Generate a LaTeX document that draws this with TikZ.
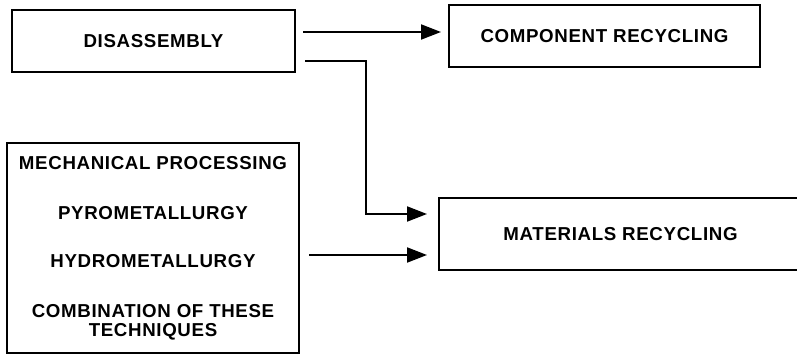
\documentclass[tikz,border=0pt]{standalone}
\usepackage{fontspec}
\setmainfont{Liberation Sans}[LetterSpace=3.5]
\usetikzlibrary{arrows.meta}
\begin{document}
\begin{tikzpicture}[x=1pt,y=-1pt,
  box/.style={draw=black,line width=2pt,fill=white,rectangle,inner sep=0pt,
    font=\fontsize{18.7}{19}\selectfont\bfseries,align=center},
  arr/.style={draw=black,line width=2pt,-{Triangle[length=20pt,width=15pt]}}]
  \useasboundingbox (0,0) rectangle (797,355);
  \clip (0,0) rectangle (797,355);
  % process boxes
  \node[box,minimum width=283pt,minimum height=62pt] (dis) at (153.5,41) {DISASSEMBLY};
  \node[box,minimum width=311pt,minimum height=62pt] (comp) at (604.5,36) {COMPONENT RECYCLING};
  \node[box,minimum width=363pt,minimum height=72pt] (mat) at (620.5,234) {MATERIALS RECYCLING};
  \node[box,minimum width=292pt,minimum height=210pt] (tech) at (153,248)
    {MECHANICAL PROCESSING\\[31pt]PYROMETALLURGY\\[29pt]HYDROMETALLURGY\\[31pt]COMBINATION OF THESE\\TECHNIQUES};
  % connector start points
  \coordinate (s1) at (303,32);
  \coordinate (s2) at (305,61);
  \coordinate (bend) at (366,61);
  \coordinate (s3) at (309,255);
  % connectors
  \draw[arr,shorten >=7pt] (s1) -- (s1 -| comp.west);
  \draw[arr,shorten >=11pt] (s2) -- (bend) |- ([yshift=20pt]mat.west);
  \draw[arr,shorten >=11pt] (s3) -- (s3 -| mat.west);
\end{tikzpicture}
\end{document}
